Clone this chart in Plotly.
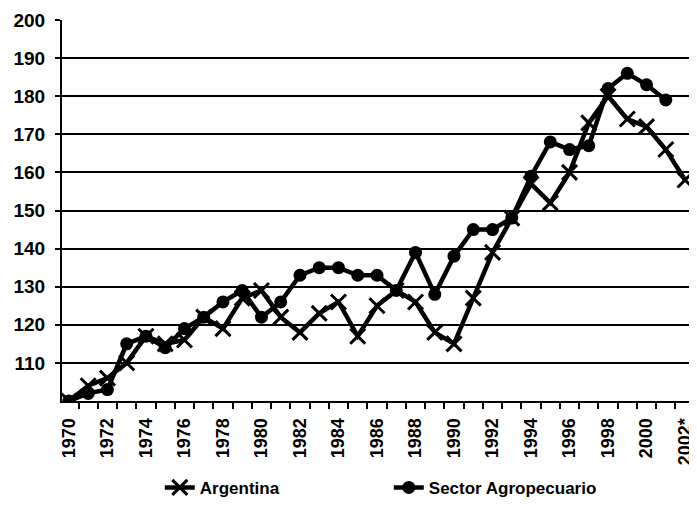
import plotly.graph_objects as go

years = list(range(1970, 2003))
argentina = [100, 104, 106, 110, 117, 115, 116, 122, 119, 127, 129, 122, 118, 123, 126, 117,
             125, 129, 126, 118, 115, 127, 139, 148, 157, 152, 160, 173, 180, 174, 172, 166, 158]
sector_years = list(range(1970, 2002))
sector = [100, 102, 103, 115, 117, 114, 119, 122, 126, 129, 122, 126, 133, 135, 135, 133,
          133, 129, 139, 128, 138, 145, 145, 148, 159, 168, 166, 167, 182, 186, 183, 179]
x_tickvals = list(range(1970, 2003, 2))
x_ticktext = [str(y) for y in range(1970, 2001, 2)] + ["2002*"]
y_tickvals = list(range(110, 201, 10))

font_family = "Liberation Sans, Arial, sans-serif"

fig = go.Figure()
fig.add_trace(go.Scatter(
    x=years, y=argentina, name="Argentina", mode="lines+markers",
    line=dict(color="black", width=4.5),
    marker=dict(symbol="x-thin", size=15, color="black", line=dict(color="black", width=3)),
))
fig.add_trace(go.Scatter(
    x=sector_years, y=sector, name="Sector Agropecuario", mode="lines+markers",
    line=dict(color="black", width=4.5),
    marker=dict(symbol="circle", size=13, color="black"),
))

fig.update_layout(
    width=689, height=502,
    margin=dict(l=54, r=0, t=12, b=109),
    paper_bgcolor="white", plot_bgcolor="white",
    font=dict(family=font_family, color="black", size=17, weight="bold"),
    showlegend=True,
    legend=dict(orientation="h", x=0.154, xanchor="left", y=-0.228, yanchor="middle",
                font=dict(size=17, family=font_family, weight="bold"),
                entrywidth=184, entrywidthmode="pixels", bgcolor="rgba(0,0,0,0)"),
)
fig.update_xaxes(
    range=[1969.64, 2002.62], tickmode="array", tickvals=x_tickvals, ticktext=x_ticktext,
    tickangle=-90, showgrid=False, zeroline=False, automargin=False,
    showline=True, linecolor="black", linewidth=2, ticklabeloverflow="allow",
    ticks="", ticklabelstandoff=8, tickfont=dict(size=18, family=font_family, weight="bold"),
    minor=dict(ticks="outside", tick0=1969.5, dtick=1, ticklen=6, tickwidth=2, tickcolor="black", showgrid=False),
)
fig.update_yaxes(
    range=[100, 200], tickmode="array", tickvals=y_tickvals, automargin=False,
    showgrid=True, gridcolor="black", gridwidth=2, zeroline=False,
    showline=True, linecolor="black", linewidth=2,
    ticks="outside", ticklen=5, tickwidth=2, tickcolor="black", ticklabelstandoff=6,
    tickfont=dict(size=19, family=font_family, weight="bold"),
)

fig.write_html("out.html")
